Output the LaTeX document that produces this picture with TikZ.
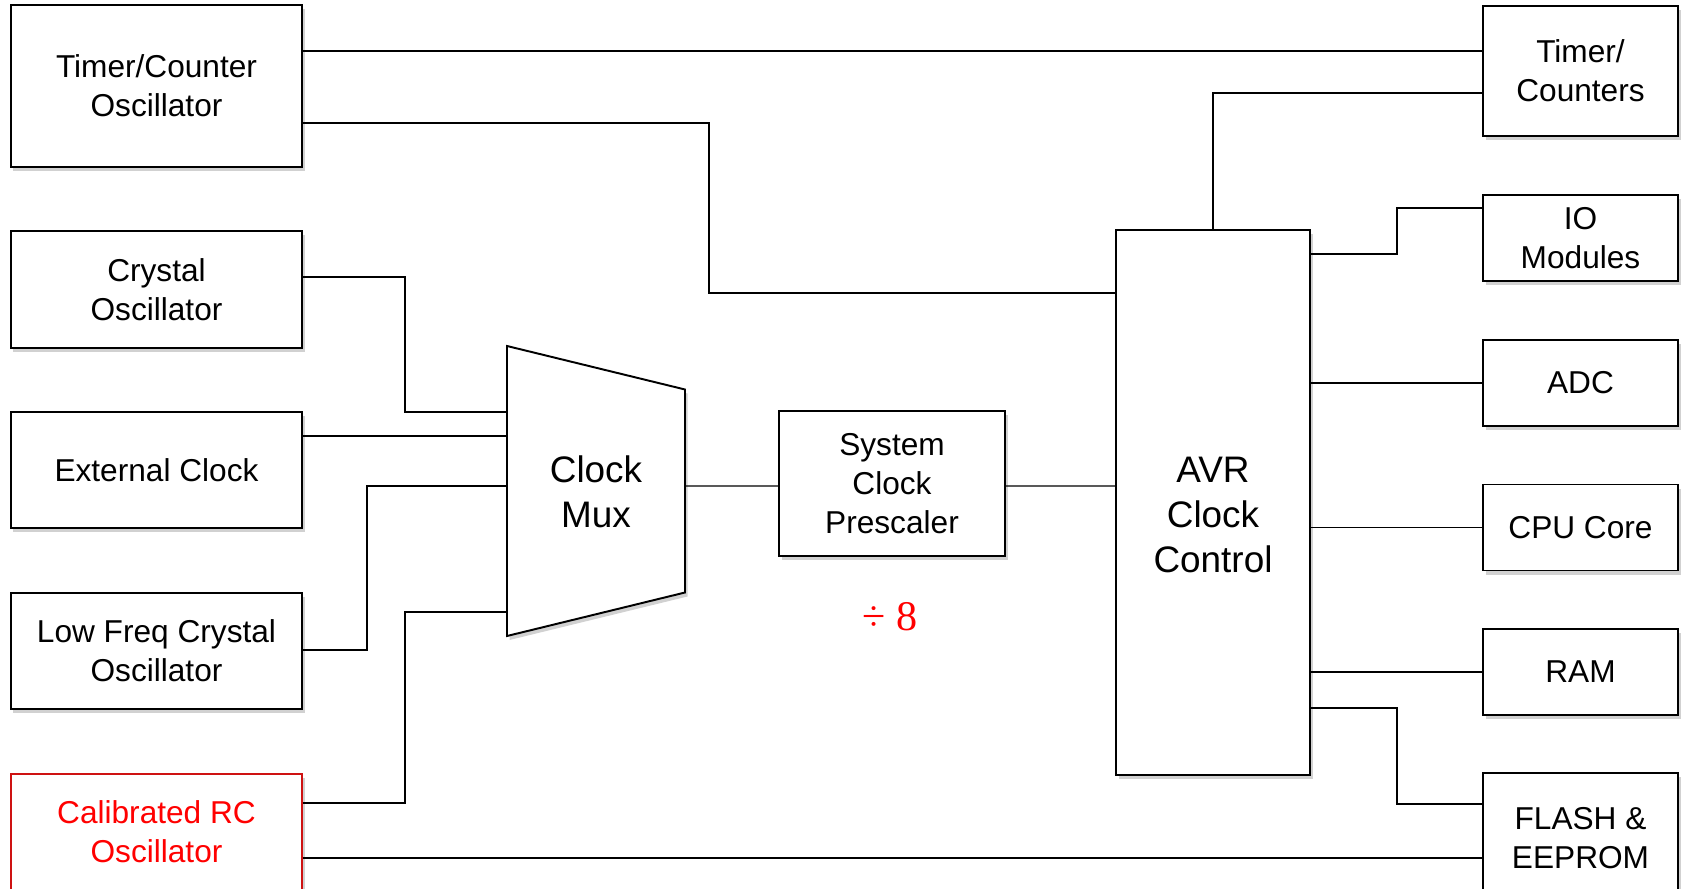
\documentclass[tikz,border=0pt]{standalone}
\usepackage{fontspec}
\setmainfont{Liberation Sans}
\newfontfamily\divfont{Liberation Serif}
\usetikzlibrary{calc, shadows}
\definecolor{cred}{RGB}{255,0,0}
\definecolor{credge}{RGB}{206,18,18}
\tikzset{
  softshadow/.style={   % grey drop shadow under every block
    drop shadow={shadow xshift=0.5mm, shadow yshift=-0.8mm,
                 opacity=0.18, fill=black}
  },
  blk/.style={          % plain block
    draw=black, fill=white, line width=1.1pt, softshadow,
    align=center, inner sep=2pt,
    font=\fontsize{18}{22}\selectfont
  },
  lbox/.style={         % clock source (left column)
    blk, minimum width=58.2mm, minimum height=23.3mm
  },
  rbox/.style={         % clocked module (right column)
    blk, minimum width=39mm, minimum height=17.2mm
  },
  bigtxt/.style={font=\fontsize{21}{25.5}\selectfont, align=center},
  wire/.style={draw=black, line width=0.75pt},
}
\begin{document}
\begin{tikzpicture}[x=0.2mm, y=-0.2mm]
\useasboundingbox (0,0) rectangle (1683,889);

%% ─── LEFT: clock sources ─────────────────────────────────────────────────────
\node[lbox, minimum height=32.4mm] (tco) at (156.5, 86) {Timer/Counter\\Oscillator};
\node[lbox] (xtal)   at (156.5, 289.5) {Crystal\\Oscillator};
\node[lbox] (extclk) at (156.5, 470)   {External Clock};
\node[lbox] (lfxtal) at (156.5, 651)   {Low Freq Crystal\\Oscillator};
\node[lbox, draw=credge, text=cred] (rcosc) at (156.5, 832) {Calibrated RC\\Oscillator};

%% ─── Clock Mux (trapezium) ───────────────────────────────────────────────────
\node[minimum width=35.6mm, minimum height=58mm, inner sep=0pt, outer sep=0pt]
  (mux) at (596, 491) {};
\draw[line width=1.1pt, fill=white, softshadow]
  (mux.north west) -- ($(mux.north east)+(0,43.5)$)
  -- ($(mux.south east)+(0,-43.5)$) -- (mux.south west) -- cycle;
\node[bigtxt] (muxtxt) at ($(mux.center)+(0,1)$) {Clock\\Mux};

%% ─── Prescaler ───────────────────────────────────────────────────────────────
\node[blk, minimum width=45.2mm, minimum height=29mm] (pre) at (892, 483.5)
  {System\\Clock\\Prescaler};
\node[font=\divfont\fontsize{24}{28}\selectfont, text=cred] (div) at (890, 617) {÷ 8};

%% ─── AVR Clock Control ───────────────────────────────────────────────────────
\node[blk, bigtxt, minimum width=38.8mm, minimum height=109mm] (avr) at (1213, 502.5)
  {\rule{0pt}{29pt}AVR\\Clock\\Control};

%% ─── RIGHT: clocked modules ──────────────────────────────────────────────────
\node[rbox, minimum height=26mm] (tc) at (1580.5, 71) {Timer/\\Counters};
\node[rbox] (io)  at (1580.5, 238)   {IO\\Modules};
\node[rbox] (adc) at (1580.5, 383)   {ADC};
\node[rbox] (cpu) at (1580.5, 527.5) {CPU Core};
\node[rbox] (ram) at (1580.5, 672)   {RAM};
\node[rbox, minimum height=26mm] (flash) at (1580.5, 838) {FLASH \&\\EEPROM};

%% ─── Wires ───────────────────────────────────────────────────────────────────
% sources -> mux
\draw[wire] ($(xtal.east)+(0,-12.5)$) -- ++(102,0) |- ($(mux.west)+(0,-79)$);
\draw[wire] ($(extclk.east)+(0,-34)$) -- ($(mux.west)+(0,-55)$);
\draw[wire] ($(lfxtal.east)+(0,-1)$)  -- ++(64,0)  |- ($(mux.west)+(0,-5)$);
\draw[wire] ($(rcosc.east)+(0,-29)$)  -- ++(102,0) |- ($(mux.west)+(0,121)$);

% mux -> prescaler -> AVR
\draw[wire] ($(mux.east)+(0,-5)$) -- ($(pre.west)+(0,2.5)$);
\draw[wire] ($(pre.east)+(0,2.5)$) -- ($(avr.west)+(0,-16.5)$);

% direct feeds
\draw[wire] ($(tco.east)+(0,-35)$) -- ($(tc.west)+(0,-20)$);
\draw[wire] ($(tco.east)+(0,37)$) -- ++(406,0) |- ($(avr.west)+(0,-209.5)$);
\draw[wire] ($(rcosc.east)+(0,26)$) -- ($(flash.west)+(0,20)$);

% AVR -> modules
\draw[wire] (avr.north) |- ($(tc.west)+(0,22)$);
\draw[wire] ($(avr.east)+(0,-248.5)$) -- ++(86,0) |- ($(io.west)+(0,-30)$);
\draw[wire] (avr.east |- adc.west) -- (adc.west);
\draw[wire] (avr.east |- cpu.west) -- (cpu.west);
\draw[wire] (avr.east |- ram.west) -- (ram.west);
\draw[wire] ($(avr.east)+(0,205.5)$) -- ++(86,0) |- ($(flash.west)+(0,-34)$);

\end{tikzpicture}
\end{document}
